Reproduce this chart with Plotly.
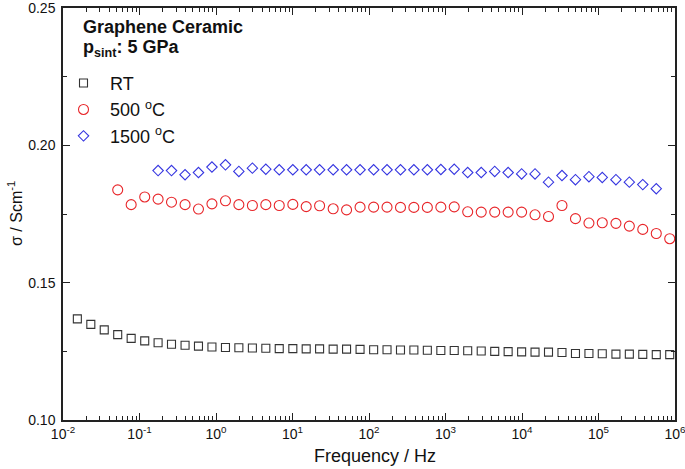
import plotly.graph_objects as go

# Frequencies (Hz) of the measurement points
freq = [0.0154, 0.0231, 0.0346, 0.0519, 0.0778, 0.117, 0.175, 0.262, 0.394, 0.590,
        0.885, 1.33, 1.99, 2.99, 4.48, 6.71, 10.1, 15.1, 22.6, 34.0,
        50.9, 76.4, 115, 172, 258, 386, 579, 869, 1300, 1950,
        2930, 4400, 6590, 9890, 14800, 22200, 33300, 50000, 75000, 112000,
        169000, 253000, 379000, 569000, 853000]

sigma_rt = [0.1368, 0.1348, 0.1328, 0.1311, 0.1297, 0.1288, 0.1281, 0.1276, 0.1272, 0.1269,
            0.1266, 0.1264, 0.1263, 0.1262, 0.1261, 0.1260, 0.1260, 0.1259, 0.1259, 0.1258,
            0.1258, 0.1257, 0.1256, 0.1256, 0.1255, 0.1255, 0.1254, 0.1253, 0.1253, 0.1252,
            0.1251, 0.1250, 0.1249, 0.1248, 0.1247, 0.1247, 0.1246, 0.1242, 0.1242, 0.1241,
            0.1240, 0.1240, 0.1239, 0.1238, 0.1238]

freq_500 = freq[3:]
sigma_500 = [0.1838, 0.1784, 0.1812, 0.1804, 0.1793, 0.1784, 0.1768, 0.1787, 0.1798, 0.1784,
             0.1781, 0.1784, 0.1781, 0.1785, 0.1777, 0.1780, 0.1769, 0.1765, 0.1775, 0.1775,
             0.1775, 0.1774, 0.1774, 0.1774, 0.1775, 0.1776, 0.1758, 0.1757, 0.1757, 0.1757,
             0.1757, 0.1747, 0.1741, 0.1781, 0.1733, 0.1717, 0.1718, 0.1716, 0.1706, 0.1694,
             0.1679, 0.1660]

freq_1500 = freq[6:]
sigma_1500 = [0.1908, 0.1908, 0.1893, 0.1901, 0.1921, 0.1929, 0.1905, 0.1917, 0.1913, 0.1911,
              0.1911, 0.1911, 0.1911, 0.1911, 0.1911, 0.1911, 0.1911, 0.1911, 0.1911, 0.1911,
              0.1911, 0.1912, 0.1913, 0.1901, 0.1901, 0.1905, 0.1901, 0.1896, 0.1896, 0.1866,
              0.1890, 0.1875, 0.1886, 0.1883, 0.1875, 0.1866, 0.1857, 0.1842]

x_tickvals = [1e-2, 1e-1, 1e0, 1e1, 1e2, 1e3, 1e4, 1e5, 1e6]
x_ticktext = ["10<sup>-2</sup>", "10<sup>-1</sup>", "10<sup>0</sup>", "10<sup>1</sup>",
              "10<sup>2</sup>", "10<sup>3</sup>", "10<sup>4</sup>", "10<sup>5</sup>",
              "10<sup>6</sup>"]
y_tickvals = [0.10, 0.15, 0.20, 0.25]
y_ticktext = ["0.10", "0.15", "0.20", "0.25"]

FONT = "Liberation Sans, Arial, sans-serif"
AX = "#222222"

fig = go.Figure()
fig.add_trace(go.Scatter(x=freq, y=sigma_rt, mode="markers", name="RT",
                         marker=dict(symbol="square-open", size=8, color="#333333",
                                     line=dict(width=1.1))))
fig.add_trace(go.Scatter(x=freq_500, y=sigma_500, mode="markers", name="500 <sup>o</sup>C",
                         marker=dict(symbol="circle-open", size=10, color="#E8262A",
                                     line=dict(width=1.1))))
fig.add_trace(go.Scatter(x=freq_1500, y=sigma_1500, mode="markers", name="1500 <sup>o</sup>C",
                         marker=dict(symbol="diamond-open", size=8, color="#3535E0",
                                     line=dict(width=1.1))))

fig.update_layout(
    width=685, height=469,
    margin=dict(l=63, r=10, t=8, b=49, autoexpand=False),
    paper_bgcolor="white", plot_bgcolor="white",
    font=dict(family=FONT, color="#111111", size=14),
    showlegend=True,
    legend=dict(x=-0.0098, y=0.8620, xanchor="left", yanchor="top",
                bgcolor="rgba(0,0,0,0)", font=dict(size=18, family=FONT),
                itemwidth=43, tracegroupgap=0),
    annotations=[
        dict(text="<b>Graphene Ceramic</b>", xref="paper", yref="paper",
             x=0.029, y=(420 - 27) / 412, xanchor="left", yanchor="middle",
             showarrow=False, font=dict(size=18, family=FONT)),
        dict(text="<b>p<sub>sint</sub>: 5 GPa</b>", xref="paper", yref="paper",
             x=0.029, y=(420 - 49) / 412, xanchor="left", yanchor="middle",
             showarrow=False, font=dict(size=18, family=FONT)),
        dict(text="Frequency / Hz", xref="paper", yref="paper",
             x=(375 - 63) / 612, y=(420 - 456) / 412, xanchor="center", yanchor="middle",
             showarrow=False, font=dict(size=18, family=FONT)),
        dict(text="σ / Scm<sup>-1</sup>", xref="paper", yref="paper", textangle=-90,
             x=(15 - 63) / 612, y=0.5, xanchor="center", yanchor="middle",
             showarrow=False, font=dict(size=16, family=FONT)),
    ],
)

fig.update_xaxes(
    type="log", range=[-2, 6], automargin=False,
    tickmode="array", tickvals=x_tickvals, ticktext=x_ticktext,
    ticks="inside", ticklen=7, tickwidth=1.2, tickcolor=AX,
    minor=dict(ticks="inside", ticklen=4, tickwidth=1, tickcolor=AX, dtick="D1", showgrid=False),
    showline=True, linewidth=1.5, linecolor=AX, mirror="allticks",
    showgrid=False, zeroline=False, ticklabeloverflow="allow", ticklabelstandoff=0,
    tickfont=dict(size=14, family=FONT),
)
fig.update_yaxes(
    range=[0.10, 0.25], automargin=False,
    tickmode="array", tickvals=y_tickvals, ticktext=y_ticktext,
    ticks="inside", ticklen=7, tickwidth=1.2, tickcolor=AX,
    minor=dict(ticks="inside", ticklen=4, tickwidth=1, tickcolor=AX,
               tickmode="array", tickvals=[0.125, 0.175, 0.225], showgrid=False),
    showline=True, linewidth=1.5, linecolor=AX, mirror="allticks",
    showgrid=False, zeroline=False, ticklabeloverflow="allow", ticklabelstandoff=3,
    tickfont=dict(size=14, family=FONT),
)

fig.write_html("out.html", config={"displayModeBar": False},
               post_script="document.body.style.margin='0';document.body.style.overflow='hidden';")
